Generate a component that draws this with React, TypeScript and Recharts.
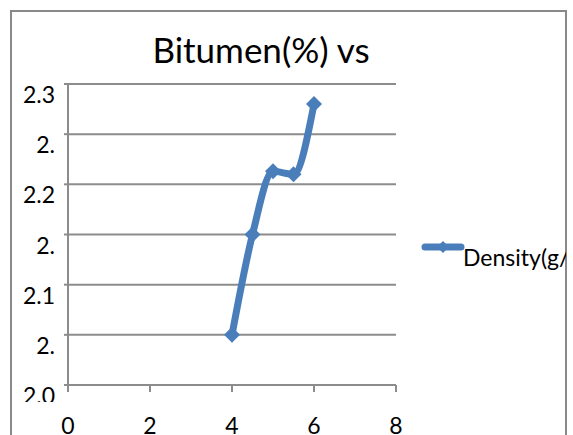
import React from 'react';
import { LineChart, Line, XAxis, YAxis, CartesianGrid } from 'recharts';

const bitumen = [4, 4.5, 5, 5.5, 6];
const density = [2.05, 2.15, 2.213, 2.21, 2.28];
const xTicks = [0, 2, 4, 6, 8];
const yTicks = [2.0, 2.05, 2.1, 2.15, 2.2, 2.25, 2.3];
const yLabels = ['2.0', '2.', '2.1', '2.', '2.2', '2.', '2.3'];
const seriesName = 'Density(g/';
const title = 'Bitumen(%) vs';

const data = bitumen.map((b, i) => ({ bitumen: b, density: density[i] }));

const BLUE = '#4a7ebb';
const GRID = '#8c8c8c';
const FONT = 'Lato, "Open Sans", sans-serif';

// ─── diamond marker ─────────────────────────────────────
function Diamond({ cx, cy }: any) {
  if (cx == null || cy == null) return null;
  const r = 8;
  return <polygon points={`${cx},${cy - r} ${cx + r},${cy} ${cx},${cy + r} ${cx - r},${cy}`} fill={BLUE} />;
}

function YTick({ x, y, payload }: any) {
  const idx = yTicks.findIndex((t) => Math.abs(t - payload.value) < 1e-6);
  return (
    <g>
      <defs>
        <clipPath id="ylab-clip">
          <rect x={0} y={60} width={66} height={342} />
        </clipPath>
      </defs>
      <text x={x - 7} y={y} dy={19} textAnchor="end" fill="#000" fontSize={23} fontFamily={FONT} clipPath="url(#ylab-clip)">
        {yLabels[idx]}
      </text>
    </g>
  );
}

function LegendBox() {
  return (
    <div style={{ position: 'absolute', left: 420, top: 237, width: 146, height: 40, overflow: 'hidden' }}>
      <svg width={46} height={20} style={{ position: 'absolute', left: 0, top: 0 }}>
        <line x1={5} y1={10} x2={41} y2={10} stroke={BLUE} strokeWidth={7} strokeLinecap="round" />
        <polygon points="23,4 29,10 23,16 17,10" fill={BLUE} />
      </svg>
      <span style={{ position: 'absolute', left: 43, top: 6, fontSize: 23, fontFamily: FONT, color: '#000', whiteSpace: 'nowrap', lineHeight: '28px' }}>
        {seriesName}
      </span>
    </div>
  );
}

export default function App() {
  return (
    <div style={{ position: 'absolute', left: 0, top: 0, width: 573, height: 435, background: '#fff', overflow: 'hidden' }}>
      <div style={{ position: 'absolute', left: 10, top: 10, width: 557, height: 440, border: '2px solid #898989', boxSizing: 'border-box' }} />
      <div style={{ position: 'absolute', left: 0, top: 28, width: 522, textAlign: 'center', fontSize: 35, fontFamily: FONT, color: '#000' }}>
        {title}
      </div>
      <LineChart width={573} height={435} data={data} margin={{ top: 84, right: 177, bottom: 0, left: 0 }} style={{ position: 'absolute', left: 0, top: 0 }}>
        <CartesianGrid vertical={false} stroke={GRID} strokeWidth={2} />
        <XAxis
          dataKey="bitumen"
          type="number"
          domain={[0, 8]}
          ticks={xTicks}
          interval={0}
          height={50}
          stroke={GRID}
          strokeWidth={2}
          tickSize={7}
          tickMargin={26}
          tick={{ fill: '#000', fontSize: 23, fontFamily: FONT }}
        />
        <YAxis
          type="number"
          domain={[2.0, 2.3]}
          ticks={yTicks}
          interval={0}
          width={68}
          stroke={GRID}
          strokeWidth={2}
          tickSize={4}
          tick={<YTick />}
        />
        <Line
          type="monotone"
          dataKey="density"
          name={seriesName}
          stroke={BLUE}
          strokeWidth={7}
          dot={<Diamond />}
          activeDot={false}
          isAnimationActive={false}
        />
      </LineChart>
      <LegendBox />
    </div>
  );
}
